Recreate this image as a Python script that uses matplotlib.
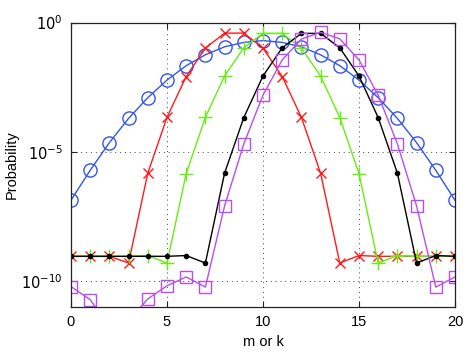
import numpy as np
import matplotlib
matplotlib.use("Agg")
import matplotlib.pyplot as plt

plt.rcParams['font.family'] = ['Liberation Sans', 'DejaVu Sans']

x = list(range(21))

# log10 of probability
blue_log = [-6.88, -5.72, -4.65, -3.71, -2.91, -2.23, -1.67, -1.25, -0.94, -0.77, -0.70,
            -0.77, -0.94, -1.25, -1.67, -2.23, -2.91, -3.71, -4.65, -5.72, -6.88]
red_log = [-9.05, -9.05, -9.05, -9.31, -5.83, -3.67, -2.09, -0.99, -0.41, -0.41, -0.99,
           -2.09, -3.67, -5.83, -9.31, -9.02, -9.05, -9.05, -9.05, -9.05, -9.05]
green_log = [-9.05, -9.05, -9.05, -9.05, -9.02, -9.31, -5.85, -3.67, -2.07, -0.98, -0.42,
             -0.42, -0.99, -2.07, -3.68, -5.85, -9.31, -9.02, -9.05, -9.05, -9.05]
black_log = [-9.05, -9.05, -9.05, -9.05, -9.05, -9.05, -9.02, -9.31, -5.83, -3.68, -2.07,
             -0.98, -0.42, -0.42, -0.98, -2.07, -3.68, -5.83, -9.31, -9.02, -9.05]
magenta_log = [-10.22, -10.73, -11.78, -11.55, -10.70, -10.19, -9.85, -10.24, -7.10, -4.70, -2.81,
               -1.45, -0.64, -0.38, -0.63, -1.45, -2.81, -4.70, -7.10, -10.24, -9.85]

x_ticks = [0, 5, 10, 15, 20]
y_ticks = [1e-10, 1e-5, 1e0]
y_ticklabels = [r'$10^{-10}$', r'$10^{-5}$', r'$10^{0}$']

fig = plt.figure(figsize=(4.71, 3.52), dpi=100)
ax = fig.add_axes([0.1507, 0.1287, 0.8153, 0.8073])

lw = 1.0
ax.plot(x, np.power(10.0, blue_log), color='#3355ee', marker='o', ms=9.5, mfc='none',
        mew=1.0, lw=lw)
ax.plot(x, np.power(10.0, red_log), color='#ff1a1a', marker='x', ms=7.5, mew=1.0, lw=lw)
ax.plot(x, np.power(10.0, green_log), color='#66ee11', marker='+', ms=10, mew=1.0, lw=lw)
ax.plot(x, np.power(10.0, black_log), color='black', marker='o', ms=3, lw=lw)
ax.plot(x, np.power(10.0, magenta_log), color='#b84ef0', marker='s', ms=8, mfc='none',
        mew=1.0, lw=lw)

ax.set_yscale('log')
ax.set_xlim(0, 20)
ax.set_ylim(1e-11, 1e0)
ax.set_xticks(x_ticks)
ax.set_yticks(y_ticks)
ax.set_yticklabels(y_ticklabels)
ax.yaxis.set_minor_locator(matplotlib.ticker.NullLocator())
ax.tick_params(direction='in', top=True, right=True, length=4, width=0.8,
               labelsize=10.5, colors='#222222', pad=6)
ax.tick_params(labelcolor='black')
ax.grid(True, color='#444444', linestyle=(0, (1, 4)), linewidth=0.7)
for s in ax.spines.values():
    s.set_linewidth(0.9)
    s.set_color('#222222')

ax.set_xlabel('m or k', fontsize=10.5, labelpad=4)
ax.set_ylabel('Probability', fontsize=10.5, labelpad=2)

fig.savefig('out.png', dpi=100)
